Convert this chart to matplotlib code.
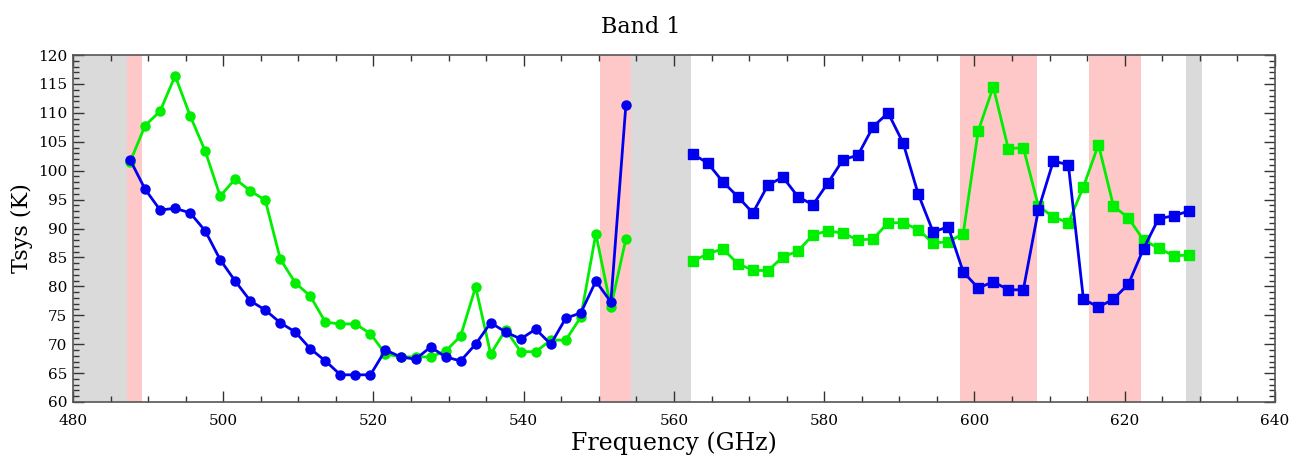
"""
Band 1 Tsys vs frequency, two polarisations, with flagged regions shaded.
"""

import matplotlib
matplotlib.use("Agg")
import matplotlib.pyplot as plt
from matplotlib.ticker import MultipleLocator

# -------------------------------------------------------------------
# Data
# -------------------------------------------------------------------

freq_lo = [487.6, 489.6, 491.6, 493.6, 495.6, 497.6, 499.6, 501.6, 503.6, 505.6,
           507.6, 509.6, 511.6, 513.6, 515.6, 517.6, 519.6, 521.6, 523.6, 525.6,
           527.6, 529.6, 531.6, 533.6, 535.6, 537.6, 539.6, 541.6, 543.6, 545.6,
           547.6, 549.6, 551.6, 553.6]
tsys_lo_blue = [101.9, 96.8, 93.2, 93.5, 92.7, 89.6, 84.6, 80.9, 77.5, 75.9,
                73.7, 72.1, 69.2, 67.1, 64.7, 64.7, 64.7, 69.0, 67.8, 67.4,
                69.5, 67.8, 67.1, 70.0, 73.7, 72.1, 70.9, 72.6, 70.0, 74.5,
                75.4, 80.9, 77.3, 111.4]
tsys_lo_green = [101.5, 107.8, 110.3, 116.4, 109.5, 103.4, 95.6, 98.6, 96.5, 94.9,
                 84.7, 80.6, 78.3, 73.8, 73.5, 73.5, 71.8, 68.3, 67.8, 67.8,
                 67.8, 68.8, 71.4, 79.9, 68.3, 72.5, 68.7, 68.7, 70.7, 70.7,
                 74.7, 89.1, 76.4, 88.2]

freq_hi = [562.5, 564.5, 566.5, 568.5, 570.5, 572.5, 574.5, 576.5, 578.5, 580.5,
           582.5, 584.5, 586.5, 588.5, 590.5, 592.5, 594.5, 596.5, 598.5, 600.5,
           602.5, 604.5, 606.5, 608.5, 610.5, 612.5, 614.5, 616.5, 618.5, 620.5,
           622.5, 624.5, 626.5, 628.5]
tsys_hi_blue = [102.9, 101.3, 98.1, 95.5, 92.7, 97.5, 98.9, 95.5, 94.1, 97.9,
                101.9, 102.7, 107.6, 110.0, 104.8, 96.0, 89.4, 90.3, 82.5, 79.7,
                80.8, 79.4, 79.4, 93.2, 101.7, 101.0, 77.8, 76.4, 77.8, 80.4,
                86.5, 91.7, 92.2, 93.0]
tsys_hi_green = [84.4, 85.6, 86.5, 83.9, 82.8, 82.7, 85.1, 86.1, 88.9, 89.6,
                 89.2, 88.0, 88.2, 91.0, 91.0, 89.8, 87.5, 87.7, 89.1, 106.9,
                 114.5, 103.8, 104.0, 93.9, 92.0, 91.0, 97.2, 104.5, 93.9, 91.8,
                 88.0, 86.6, 85.3, 85.4]

# shaded ranges (GHz)
gray_spans = [(480.0, 487.2), (554.3, 562.2), (628.2, 630.3)]
pink_spans = [(487.2, 489.2), (550.1, 554.3), (598.1, 608.3), (615.2, 622.2)]

# -------------------------------------------------------------------
# Plot
# -------------------------------------------------------------------

plt.rcParams["font.family"] = ["DejaVu Serif"]

BLUE = "#0000ee"
GREEN = "#00ee00"

fig = plt.figure(figsize=(13.03, 4.55), dpi=100)
ax = fig.add_axes([0.056, 0.1165, 0.9225, 0.7625])

for lo, hi in gray_spans:
    ax.axvspan(lo, hi, color="#dadada", lw=0, zorder=0)
for lo, hi in pink_spans:
    ax.axvspan(lo, hi, color="#ffc8c8", lw=0, zorder=0)

ax.plot(freq_lo, tsys_lo_green, color=GREEN, marker="o", markersize=6.5, lw=2)
ax.plot(freq_lo, tsys_lo_blue, color=BLUE, marker="o", markersize=6.5, lw=2)
ax.plot(freq_hi, tsys_hi_green, color=GREEN, marker="s", markersize=7.5, lw=2)
ax.plot(freq_hi, tsys_hi_blue, color=BLUE, marker="s", markersize=7.5, lw=2)

ax.set_xlim(480, 640)
ax.set_ylim(60, 120)
ax.xaxis.set_major_locator(MultipleLocator(20))
ax.xaxis.set_minor_locator(MultipleLocator(5))
ax.yaxis.set_major_locator(MultipleLocator(5))
ax.yaxis.set_minor_locator(MultipleLocator(1))
ax.tick_params(which="both", direction="in", top=True, right=True,
               labelsize=11, color="#333333")
ax.tick_params(which="major", length=8, width=1)
ax.tick_params(which="minor", length=4, width=1)
ax.tick_params(axis="x", which="major", pad=9)
ax.tick_params(axis="y", which="major", pad=4)
for sp in ax.spines.values():
    sp.set_color("#555555")
    sp.set_linewidth(1.2)

ax.set_xlabel("Frequency (GHz)", fontsize=17, labelpad=2)
ax.set_ylabel("Tsys (K)", fontsize=16, labelpad=4)
fig.suptitle("Band 1", fontsize=16, x=0.492, y=0.965)

fig.savefig("out.png", dpi=100)
